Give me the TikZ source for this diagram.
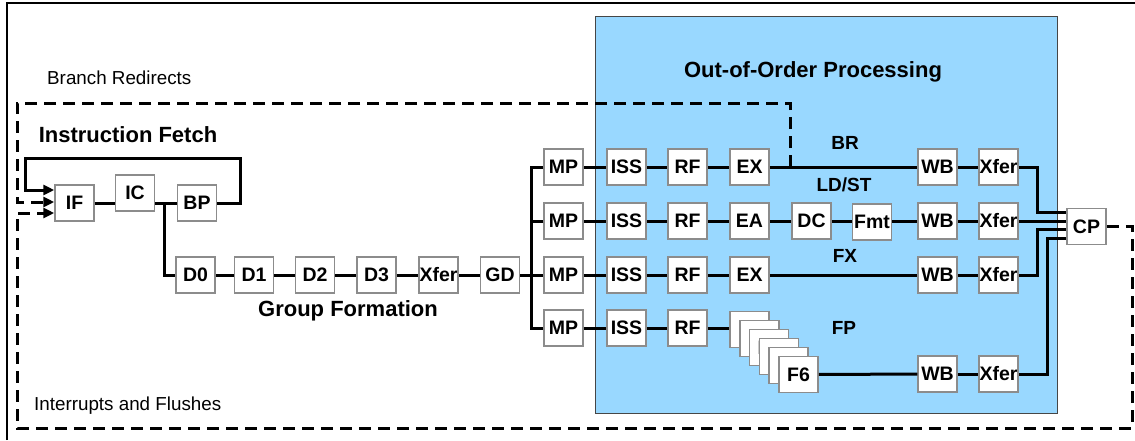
\documentclass[tikz,border=0pt]{standalone}
\usepackage{fontspec}
\setmainfont{Liberation Sans}
\usetikzlibrary{arrows.meta}
\definecolor{oooblue}{RGB}{153,216,255}
\definecolor{boxgray}{RGB}{140,140,140}
\definecolor{edgegray}{RGB}{70,70,70}
\begin{document}
\begin{tikzpicture}[x=1pt,y=-1pt,
  stage/.style={draw=boxgray,line width=1.5pt,fill=white,minimum width=39pt,minimum height=36pt,inner sep=0pt,font=\fontsize{19.5}{21}\selectfont\bfseries},
  title/.style={font=\fontsize{22}{24}\selectfont\bfseries,inner sep=0pt},
  rowlab/.style={font=\fontsize{19}{21}\selectfont\bfseries,inner sep=0pt},
  plain/.style={font=\fontsize{18.8}{20}\selectfont,inner sep=0pt},
  conn/.style={line width=3pt},
  dashconn/.style={line width=3pt,dash pattern=on 12pt off 7pt},
  tip/.style={-{Triangle[length=11pt,width=10pt]}}]
\useasboundingbox (0,0) rectangle (1135,440);
% outer frame
\draw[line width=1.2pt] (7,440) -- (7,3) -- (1135,3);
% out-of-order area
\node[draw=edgegray,line width=1.2pt,fill=oooblue,minimum width=462pt,minimum height=397pt,anchor=north west,inner sep=0pt] (ooo) at (595,16) {};
% titles and labels
\node[title] (tooo) at (813,72) {Out-of-Order Processing};
\node[title] (tif) at (128,135) {Instruction Fetch};
\node[title] (tgf) at (348,311) {Group Formation};
\node[plain,anchor=west] (lbr) at (47,78) {Branch Redirects};
\node[plain,anchor=west] (lif) at (34,406) {Interrupts and Flushes};
\node[rowlab] (rbr) at (845,143) {BR};
\node[rowlab] (rld) at (844,185) {LD/ST};
\node[rowlab] (rfx) at (845,256) {FX};
\node[rowlab] (rfp) at (844,328) {FP};
% fetch
\node[stage] (IF) at (74.5,203) {IF};
\node[stage] (IC) at (135,193) {IC};
\node[stage] (BP) at (197,203) {BP};
% group formation
\node[stage] (D0) at (195.5,275) {D0};
\node[stage] (D1) at (254,275) {D1};
\node[stage] (D2) at (315,275) {D2};
\node[stage] (D3) at (376.5,275) {D3};
\node[stage] (GX) at (438.5,275) {Xfer};
\node[stage] (GD) at (500,275) {GD};
% rows
\foreach \r/\y in {1/167,2/221,3/275,4/328}{
  \node[stage] (MP\r) at (563.5,\y) {MP};
  \node[stage] (ISS\r) at (626.5,\y) {ISS};
  \node[stage] (RF\r) at (687.5,\y) {RF};
}
\node[stage] (EX1) at (749.5,167) {EX};
\node[stage] (WB1) at (937.5,167) {WB};
\node[stage] (XF1) at (998.5,167) {Xfer};
\node[stage] (EA2) at (749.5,221) {EA};
\node[stage] (DC2) at (811.5,221) {DC};
\node[stage] (FM2) at (872,222) {Fmt};
\node[stage] (WB2) at (937.5,221) {WB};
\node[stage] (XF2) at (998.5,221) {Xfer};
\node[stage] (EX3) at (749.5,275) {EX};
\node[stage] (WB3) at (937.5,275) {WB};
\node[stage] (XF3) at (998.5,275) {Xfer};
\foreach \i in {1,...,6}{
  \node[stage] (F\i) at ({749.5+9.8*(\i-1)},{329.5+9*(\i-1)}) {F\i};
}
\node[stage] (WB4) at (937.5,374) {WB};
\node[stage] (XF4) at (998.5,374) {Xfer};
\node[stage] (CP) at (1086.5,226.5) {CP};
% helper coordinates
\coordinate (jd) at (164,203);
\coordinate (fbR) at (240,158);
\coordinate (fbL) at (25,158);
\coordinate (brT) at (790,103);
\coordinate (brL) at (17,103);
\coordinate (irR) at (1132,428);
\coordinate (irL) at (17,428);
\coordinate (bus) at (531,0);
\coordinate (c1) at (1037,212);
\coordinate (c3) at (1037,229.5);
\coordinate (c4) at (1047,238);
% fetch connectors
\draw[conn] (IF.east) -- (IF.east -| IC.west);
\draw[conn] (IF.east -| IC.east) -- (BP.west);
\draw[conn,tip] (BP.east) -| (fbR) -- (fbL) |- ([yshift=13pt]IF.west);
\draw[conn] (jd) |- (D0.west);
\draw[conn] (D0) -- (D1);
\draw[conn] (D1) -- (D2);
\draw[conn] (D2) -- (D3);
\draw[conn] (D3) -- (GX);
\draw[conn] (GX) -- (GD);
\draw[conn] (GD) -- (MP3);
\draw[conn] (MP1.west) -- (MP1.west -| bus) -- (MP4.west -| bus) -- (MP4.west);
\draw[conn] (MP2.west) -- (MP2.west -| bus);
% rows
\foreach \r in {1,2,3,4}{
  \draw[conn] (MP\r) -- (ISS\r);
  \draw[conn] (ISS\r) -- (RF\r);
}
\draw[conn] (RF1) -- (EX1);
\draw[conn] (EX1) -- (WB1);
\draw[conn] (WB1) -- (XF1);
\draw[conn] (RF2) -- (EA2);
\draw[conn] (EA2) -- (DC2);
\draw[conn] (DC2.east) -- (DC2.east -| FM2.west);
\draw[conn] (FM2.east |- WB2) -- (WB2.west);
\draw[conn] (WB2) -- (XF2);
\draw[conn] (RF3) -- (EX3);
\draw[conn] (EX3) -- (WB3);
\draw[conn] (WB3) -- (XF3);
\draw[conn] (RF4.east) -- (RF4.east -| F1.west);
\draw[conn] (F6) -- (WB4);
\draw[conn] (WB4) -- (XF4);
% to CP
\draw[conn] (XF1.east) -| (c1) -- (c1 -| CP.west);
\draw[conn] (XF2.east) -- (XF2.east -| CP.west);
\draw[conn] (XF3.east) -| (c3) -- (c3 -| CP.west);
\draw[conn] (XF4.east) -| (c4) -- (c4 -| CP.west);
% dashed feedback
\draw[dashconn,tip] (brT |- EX1) -- (brT) -- (brL) |- ([yshift=1pt]IF.west);
\draw[dashconn,tip] (CP.east) -| (irR) -- (irL) |- ([yshift=-10pt]IF.west);
\end{tikzpicture}
\end{document}
